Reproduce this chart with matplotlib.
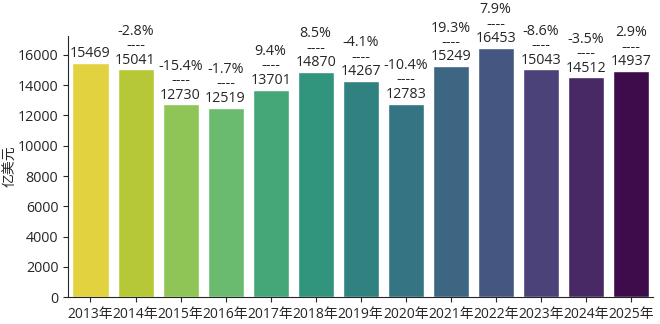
import matplotlib
matplotlib.use("Agg")
import matplotlib.pyplot as plt
import seaborn as sns
import numpy as np
import pandas as pd

years = ["2013年", "2014年", "2015年", "2016年", "2017年", "2018年", "2019年",
         "2020年", "2021年", "2022年", "2023年", "2024年", "2025年"]
values = [15469, 15041, 12730, 12519, 13701, 14870, 14267,
          12783, 15249, 16453, 15043, 14512, 14937]
growth = [None, "-2.8%", "-15.4%", "-1.7%", "9.4%", "8.5%", "-4.1%",
          "-10.4%", "19.3%", "7.9%", "-8.6%", "-3.5%", "2.9%"]

sns.set_style("ticks")
plt.rcParams["font.family"] = ["Open Sans", "Noto Sans CJK SC", "DejaVu Sans"]
plt.rcParams["axes.unicode_minus"] = False

df = pd.DataFrame({"year": years, "value": values})
colors = [tuple(c) for c in plt.cm.viridis_r(np.linspace(0, 1, len(years)))]

fig, ax = plt.subplots(figsize=(6.6, 3.24), dpi=100)
sns.barplot(data=df, x="year", y="value", hue="year", palette=colors,
            legend=False, ax=ax)

# growth vs previous year, dashes, then the value
for i, (v, g) in enumerate(zip(values, growth)):
    label = f"{v}" if g is None else f"{g}\n----\n{v}"
    ax.text(i, v + 120, label, ha="center", va="bottom", fontsize=10.3,
            linespacing=0.95)

ax.set_ylim(0, max(values) * 1.05)
ax.set_xlabel("")
ax.set_ylabel("亿美元", fontsize=10)
ax.yaxis.set_label_coords(-0.085, 0.5)
ax.tick_params(axis="y", labelsize=10.3)
ax.tick_params(axis="x", labelsize=10)
sns.despine(ax=ax)

plt.subplots_adjust(left=0.103, right=0.99, top=0.89, bottom=0.083)
plt.savefig("out.png")
